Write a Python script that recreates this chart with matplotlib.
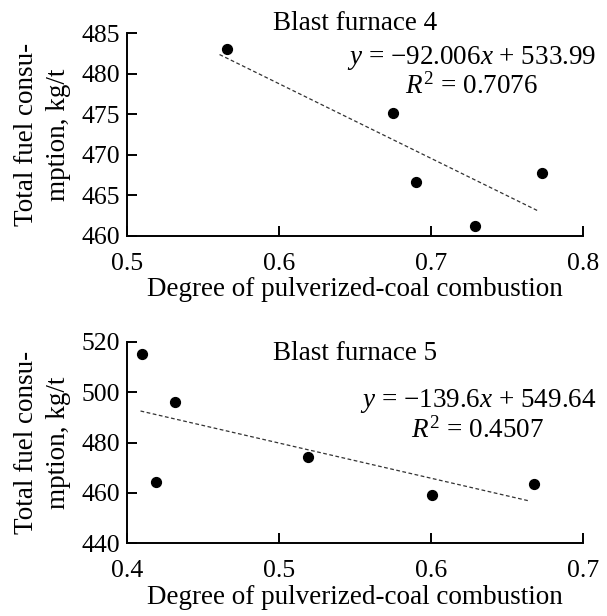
import numpy as np
import matplotlib.pyplot as plt

plt.rcParams['font.family'] = ['Liberation Serif', 'DejaVu Serif']
plt.rcParams['mathtext.fontset'] = 'custom'
plt.rcParams['mathtext.rm'] = 'Liberation Serif'
plt.rcParams['mathtext.it'] = 'Liberation Serif:italic'

# Blast furnace 4
bf4_x = [0.566, 0.675, 0.690, 0.729, 0.773]
bf4_y = [483.0, 475.2, 466.6, 461.2, 467.8]
bf4_slope, bf4_icpt, bf4_r2 = -92.006, 533.99, 0.7076
bf4_fit_range = [0.561, 0.770]

# Blast furnace 5
bf5_x = [0.410, 0.419, 0.432, 0.519, 0.601, 0.668]
bf5_y = [515.2, 464.5, 496.2, 474.2, 459.0, 463.5]
bf5_slope, bf5_icpt, bf5_r2 = -139.6, 549.64, 0.4507
bf5_fit_range = [0.409, 0.665]

fig = plt.figure(figsize=(6.07, 6.16), dpi=100)
ax1 = fig.add_axes([0.209, 0.617, 0.751, 0.329])
ax2 = fig.add_axes([0.209, 0.118, 0.751, 0.327])

FS = 19.5
TS = 18.5


def draw(ax, xs, ys, slope, icpt, r2, fit_range, title, xlim, xticks, ylim, yticks,
         title_y, eq_xy, r2_xy):
    fx = np.array(fit_range)
    ax.plot(fx, slope * fx + icpt, color='#333333', lw=0.9, ls=(0, (3, 2)))
    ax.scatter(xs, ys, s=50, color='black', zorder=3, clip_on=False)
    ax.set_xlim(*xlim)
    ax.set_ylim(*ylim)
    ax.set_xticks(xticks)
    ax.set_yticks(yticks)
    ax.set_xticklabels([f'{t:.1f}' for t in xticks])
    ax.set_yticklabels([f'{t:d}' for t in yticks])
    for s in ['top', 'right']:
        ax.spines[s].set_visible(False)
    for s in ['left', 'bottom']:
        ax.spines[s].set_linewidth(1.4)
    ax.tick_params(direction='in', length=7, width=1.4, labelsize=TS)
    ax.tick_params(axis='x', pad=12)
    ax.tick_params(axis='y', pad=5)
    ax.set_xlabel('Degree of pulverized-coal combustion', fontsize=FS, labelpad=2)
    ax.set_ylabel('Total fuel consu-\nmption, kg/t', fontsize=FS, linespacing=1.37,
                  va='center')
    ax.yaxis.set_label_coords(-0.185, 0.5)
    ax.text(0.5, title_y, title, transform=ax.transAxes, ha='center', va='center',
            fontsize=FS)
    sign = '+' if icpt >= 0 else '-'
    eq = rf'$y$ = $-${abs(slope):g}$x$ {sign} {abs(icpt):.2f}'
    ax.text(eq_xy[0], eq_xy[1], eq, transform=ax.transAxes, ha='right', va='center',
            fontsize=FS, clip_on=False)
    ax.text(r2_xy[0], r2_xy[1], rf'$R^2$ = {r2:.4f}', transform=ax.transAxes,
            ha='right', va='center', fontsize=FS, clip_on=False)


draw(ax1, bf4_x, bf4_y, bf4_slope, bf4_icpt, bf4_r2, bf4_fit_range, 'Blast furnace 4',
     (0.5, 0.8), [0.5, 0.6, 0.7, 0.8], (460, 485), [460, 465, 470, 475, 480, 485],
     1.05, (1.03, 0.878), (0.902, 0.737))
draw(ax2, bf5_x, bf5_y, bf5_slope, bf5_icpt, bf5_r2, bf5_fit_range, 'Blast furnace 5',
     (0.4, 0.7), [0.4, 0.5, 0.6, 0.7], (440, 520), [440, 460, 480, 500, 520],
     0.943, (1.03, 0.707), (0.915, 0.561))

fig.savefig('out.png', dpi=100)
